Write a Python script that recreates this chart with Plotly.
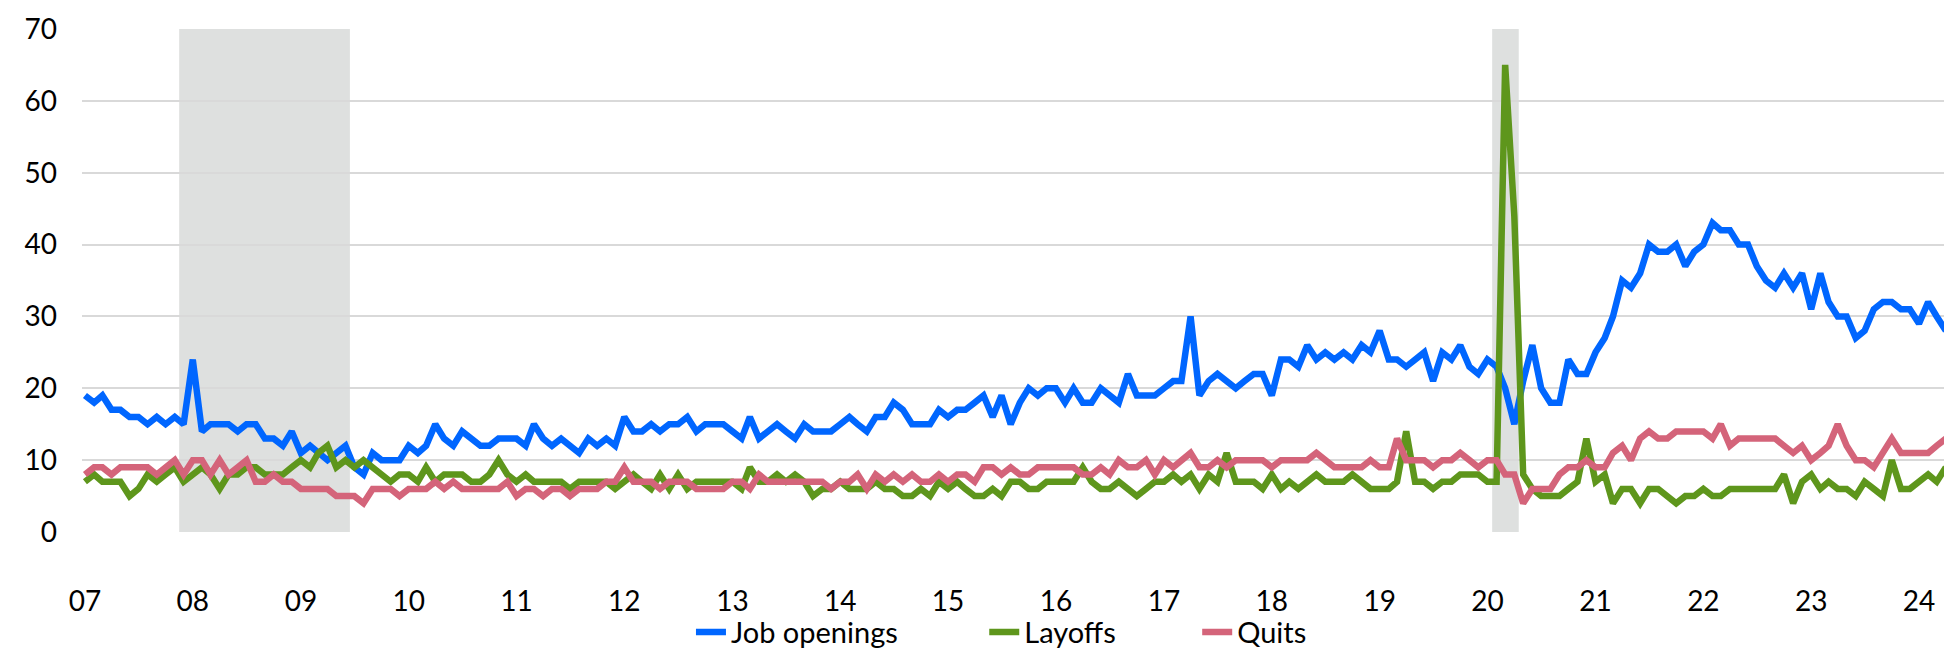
import pandas as pd
import plotly.graph_objects as go

# monthly, Jan 2007 - Apr 2024
months = pd.date_range("2007-01-01", periods=208, freq="MS")

job_openings = [
    19, 18, 19, 17, 17, 16, 16, 15, 16, 15, 16, 15,   # 2007
    24, 14, 15, 15, 15, 14, 15, 15, 13, 13, 12, 14,   # 2008
    11, 12, 11, 10, 11, 12, 9, 8, 11, 10, 10, 10,     # 2009
    12, 11, 12, 15, 13, 12, 14, 13, 12, 12, 13, 13,   # 2010
    13, 12, 15, 13, 12, 13, 12, 11, 13, 12, 13, 12,   # 2011
    16, 14, 14, 15, 14, 15, 15, 16, 14, 15, 15, 15,   # 2012
    14, 13, 16, 13, 14, 15, 14, 13, 15, 14, 14, 14,   # 2013
    15, 16, 15, 14, 16, 16, 18, 17, 15, 15, 15, 17,   # 2014
    16, 17, 17, 18, 19, 16, 19, 15, 18, 20, 19, 20,   # 2015
    20, 18, 20, 18, 18, 20, 19, 18, 22, 19, 19, 19,   # 2016
    20, 21, 21, 30, 19, 21, 22, 21, 20, 21, 22, 22,   # 2017
    19, 24, 24, 23, 26, 24, 25, 24, 25, 24, 26, 25,   # 2018
    28, 24, 24, 23, 24, 25, 21, 25, 24, 26, 23, 22,   # 2019
    24, 23, 20, 15, 21, 26, 20, 18, 18, 24, 22, 22,   # 2020
    25, 27, 30, 35, 34, 36, 40, 39, 39, 40, 37, 39,   # 2021
    40, 43, 42, 42, 40, 40, 37, 35, 34, 36, 34, 36,   # 2022
    31, 36, 32, 30, 30, 27, 28, 31, 32, 32, 31, 31,   # 2023
    29, 32, 30, 28,                                   # 2024
]

layoffs = [
    7, 8, 7, 7, 7, 5, 6, 8, 7, 8, 9, 7,
    8, 9, 8, 6, 8, 8, 9, 9, 8, 8, 8, 9,
    10, 9, 11, 12, 9, 10, 9, 10, 9, 8, 7, 8,
    8, 7, 9, 7, 8, 8, 8, 7, 7, 8, 10, 8,
    7, 8, 7, 7, 7, 7, 6, 7, 7, 7, 7, 6,
    7, 8, 7, 6, 8, 6, 8, 6, 7, 7, 7, 7,
    7, 6, 9, 7, 7, 8, 7, 8, 7, 5, 6, 6,
    7, 6, 6, 6, 7, 6, 6, 5, 5, 6, 5, 7,
    6, 7, 6, 5, 5, 6, 5, 7, 7, 6, 6, 7,
    7, 7, 7, 9, 7, 6, 6, 7, 6, 5, 6, 7,
    7, 8, 7, 8, 6, 8, 7, 11, 7, 7, 7, 6,
    8, 6, 7, 6, 7, 8, 7, 7, 7, 8, 7, 6,
    6, 6, 7, 14, 7, 7, 6, 7, 7, 8, 8, 8,
    7, 7, 65, 44, 8, 6, 5, 5, 5, 6, 7, 13,
    7, 8, 4, 6, 6, 4, 6, 6, 5, 4, 5, 5,
    6, 5, 5, 6, 6, 6, 6, 6, 6, 8, 4, 7,
    8, 6, 7, 6, 6, 5, 7, 6, 5, 10, 6, 6,
    7, 8, 7, 9,
]

quits = [
    8, 9, 9, 8, 9, 9, 9, 9, 8, 9, 10, 8,
    10, 10, 8, 10, 8, 9, 10, 7, 7, 8, 7, 7,
    6, 6, 6, 6, 5, 5, 5, 4, 6, 6, 6, 5,
    6, 6, 6, 7, 6, 7, 6, 6, 6, 6, 6, 7,
    5, 6, 6, 5, 6, 6, 5, 6, 6, 6, 7, 7,
    9, 7, 7, 7, 6, 7, 7, 7, 6, 6, 6, 6,
    7, 7, 6, 8, 7, 7, 7, 7, 7, 7, 7, 6,
    7, 7, 8, 6, 8, 7, 8, 7, 8, 7, 7, 8,
    7, 8, 8, 7, 9, 9, 8, 9, 8, 8, 9, 9,
    9, 9, 9, 8, 8, 9, 8, 10, 9, 9, 10, 8,
    10, 9, 10, 11, 9, 9, 10, 9, 10, 10, 10, 10,
    9, 10, 10, 10, 10, 11, 10, 9, 9, 9, 9, 10,
    9, 9, 13, 10, 10, 10, 9, 10, 10, 11, 10, 9,
    10, 10, 8, 8, 4, 6, 6, 6, 8, 9, 9, 10,
    9, 9, 11, 12, 10, 13, 14, 13, 13, 14, 14, 14,
    14, 13, 15, 12, 13, 13, 13, 13, 13, 12, 11, 12,
    10, 11, 12, 15, 12, 10, 10, 9, 11, 13, 11, 11,
    11, 11, 12, 13,
]

# recession shading (first month, last month)
recessions = [("2007-12-01", "2009-06-01"), ("2020-02-01", "2020-04-01")]

year_ticks = pd.date_range("2007-01-01", "2024-01-01", freq="YS")
year_labels = [d.strftime("%y") for d in year_ticks]

font = "Lato, Open Sans, sans-serif"

series = [
    ("Job openings", job_openings, "#0066FF", "legend", 0.326),
    ("Layoffs", layoffs, "#5E961C", "legend2", 0.483),
    ("Quits", quits, "#D4647A", "legend3", 0.597),
]

fig = go.Figure()

for name, values, color, leg, _ in series:
    fig.add_trace(go.Scatter(x=months, y=values, mode="lines", name=name, legend=leg,
                             line=dict(color=color, width=6.5)))

half_month = pd.Timedelta(days=15)
for start, end in recessions:
    fig.add_shape(type="rect", xref="x", yref="paper",
                  x0=pd.Timestamp(start) - half_month, x1=pd.Timestamp(end) + half_month,
                  y0=0, y1=1, fillcolor="#DEE0DF", line_width=0, layer="between")

fig.update_xaxes(range=[pd.Timestamp("2006-12-22"), pd.Timestamp("2024-04-15")],
                 tickvals=year_ticks, ticktext=year_labels,
                 showgrid=False, zeroline=False, showline=False, automargin=False,
                 ticks="", ticklabelstandoff=50,
                 tickfont=dict(size=28, color="#000000", family=font))
fig.update_yaxes(range=[0, 70], dtick=10, showgrid=True, gridcolor="#D9D9D9",
                 gridwidth=1.5, zeroline=False, showline=False, automargin=False,
                 ticks="", ticklabelstandoff=24,
                 tickfont=dict(size=28, color="#000000", family=font))

legends = {}
for name, values, color, leg, lx in series:
    legends[leg] = dict(orientation="h", x=lx, xanchor="left", y=-0.199, yanchor="middle",
                        font=dict(size=29, color="#000000", family=font),
                        bgcolor="rgba(0,0,0,0)")

fig.update_layout(
    width=1952, height=660,
    margin=dict(l=74, r=10, t=21, b=122),
    plot_bgcolor="white", paper_bgcolor="white",
    showlegend=True,
    **legends,
)

fig.write_html("out.html")
